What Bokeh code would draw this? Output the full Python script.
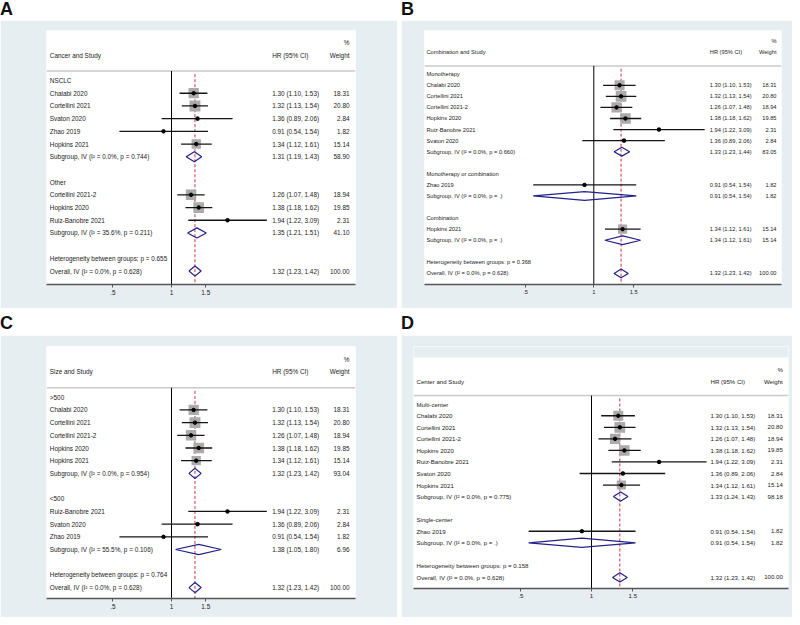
import math
from bokeh.plotting import figure
from bokeh.models import Range1d, FixedTicker, Div
from bokeh.layouts import row, column
from bokeh.core.properties import value
from bokeh.embed import file_html
from bokeh.resources import INLINE

# ---------------- data ----------------
studies = ["Chalabi 2020", "Cortellini 2021", "Cortellini 2021-2", "Hopkins 2020",
           "Hopkins 2021", "Ruiz-Banobre 2021", "Svaton 2020", "Zhao 2019"]
hr = [1.30, 1.32, 1.26, 1.38, 1.34, 1.94, 1.36, 0.91]
hr_lo = [1.10, 1.13, 1.07, 1.18, 1.12, 1.22, 0.89, 0.54]
hr_hi = [1.53, 1.54, 1.48, 1.62, 1.61, 3.09, 2.06, 1.54]
weight = [18.31, 20.80, 18.94, 19.85, 15.14, 2.31, 2.84, 1.82]

overall_hr, overall_lo, overall_hi, overall_w = 1.32, 1.23, 1.42, 100.00
overall_i2, overall_p = "0.0%", "0.628"

# Panel A
a_title = "Cancer and Study"
a_groups = ["NSCLC", "Other"]
a_members = [["Chalabi 2020", "Cortellini 2021", "Svaton 2020", "Zhao 2019", "Hopkins 2021"],
             ["Cortellini 2021-2", "Hopkins 2020", "Ruiz-Banobre 2021"]]
a_sub_hr = [1.31, 1.35]
a_sub_lo = [1.19, 1.21]
a_sub_hi = [1.43, 1.51]
a_sub_w = [58.90, 41.10]
a_sub_i2 = ["0.0%", "35.6%"]
a_sub_p = ["0.744", "0.211"]
a_het_p = "0.655"

# Panel B
b_title = "Combination and Study"
b_groups = ["Monotherapy", "Monotherapy or combination", "Combination"]
b_members = [["Chalabi 2020", "Cortellini 2021", "Cortellini 2021-2", "Hopkins 2020",
              "Ruiz-Banobre 2021", "Svaton 2020"],
             ["Zhao 2019"],
             ["Hopkins 2021"]]
b_sub_hr = [1.33, 0.91, 1.34]
b_sub_lo = [1.23, 0.54, 1.12]
b_sub_hi = [1.44, 1.54, 1.61]
b_sub_w = [83.05, 1.82, 15.14]
b_sub_i2 = ["0.0%", "0.0%", "0.0%"]
b_sub_p = ["0.660", ".", "."]
b_het_p = "0.368"

# Panel C
c_title = "Size and Study"
c_groups = [">500", "<500"]
c_members = [["Chalabi 2020", "Cortellini 2021", "Cortellini 2021-2", "Hopkins 2020", "Hopkins 2021"],
             ["Ruiz-Banobre 2021", "Svaton 2020", "Zhao 2019"]]
c_sub_hr = [1.32, 1.38]
c_sub_lo = [1.23, 1.05]
c_sub_hi = [1.42, 1.80]
c_sub_w = [93.04, 6.96]
c_sub_i2 = ["0.0%", "55.5%"]
c_sub_p = ["0.954", "0.106"]
c_het_p = "0.764"

# Panel D
d_title = "Center and Study"
d_groups = ["Multi-center", "Single-center"]
d_members = [["Chalabi 2020", "Cortellini 2021", "Cortellini 2021-2", "Hopkins 2020",
              "Ruiz-Banobre 2021", "Svaton 2020", "Hopkins 2021"],
             ["Zhao 2019"]]
d_sub_hr = [1.33, 0.91]
d_sub_lo = [1.24, 0.54]
d_sub_hi = [1.43, 1.54]
d_sub_w = [98.18, 1.82]
d_sub_i2 = ["0.0%", "0.0%"]
d_sub_p = ["0.775", "."]
d_het_p = "0.158"

ticks = [0.5, 1, 1.5]
tick_labels = [".5", "1", "1.5"]

# ---------------- style / layout ----------------
BLUE = "#e7eef1"
GRAY = "#ababab"
NAVY = "#22228a"
RED = "#cc3344"
TXT = "#222222"
FONT = "Liberation Sans"

LAY = {
    "A": dict(fig_left=0, fig_right=397, fig_top=20, fig_bottom=308,
              fl=46, fr=355, ft=30, fb=284, one=171.0, k=84.5,
              rtop=-2.94, rbot=17.06, band=None, tx_s=49.3, tx_hr=271.7, tx_w=349.0,
              fs="6.4px", sq=2.4),
    "B": dict(fig_left=401, fig_right=792, fig_top=20, fig_bottom=308,
              fl=424, fr=781, ft=30, fb=284, one=593.3, k=98.3,
              rtop=-2.95, rbot=20.0, band=None, tx_s=426.0, tx_hr=709.3, tx_w=776.0,
              fs="5.7px", sq=2.35),
    "C": dict(fig_left=0, fig_right=397, fig_top=335, fig_bottom=617,
              fl=46, fr=355, ft=346, fb=598, one=171.0, k=84.5,
              rtop=-3.0, rbot=16.86, band=None, tx_s=49.3, tx_hr=271.7, tx_w=349.0,
              fs="6.4px", sq=2.4),
    "D": dict(fig_left=401, fig_right=792, fig_top=335, fig_bottom=617,
              fl=413, fr=788, ft=346, fb=588, one=591.0, k=102.0,
              rtop=-4.0, rbot=16.96, band=-3.04, tx_s=416.0, tx_hr=710.0, tx_w=782.3,
              fs="6.1px", sq=2.35),
}


def fmt_ci(e, l, h):
    return f"{e:.2f} ({l:.2f}, {h:.2f})"


def build_panel(title, groups, members, s_hr, s_lo, s_hi, s_w, s_i2, s_p, het_p, L):
    px2x = lambda px: math.exp((px - L["one"]) / L["k"])

    sq_y, sq_hr, sq_lo, sq_hi, sq_size = [], [], [], [], []
    left_t, left_y = [], []
    mid_t, mid_y = [], []
    w_t, w_y = [], []
    dxs, dys = [], []
    dh = 0.4

    r = 1
    for gi, g in enumerate(groups):
        left_t.append(g); left_y.append(r); r += 1
        for s in members[gi]:
            i = studies.index(s)
            sq_y.append(r); sq_hr.append(hr[i]); sq_lo.append(hr_lo[i]); sq_hi.append(hr_hi[i])
            sq_size.append(L["sq"] * math.sqrt(weight[i]))
            left_t.append(s); left_y.append(r)
            mid_t.append(fmt_ci(hr[i], hr_lo[i], hr_hi[i])); mid_y.append(r)
            w_t.append(f"{weight[i]:.2f}"); w_y.append(r)
            r += 1
        left_t.append(f"Subgroup, IV (I\u00b2 = {s_i2[gi]}, p = {s_p[gi]})"); left_y.append(r)
        mid_t.append(fmt_ci(s_hr[gi], s_lo[gi], s_hi[gi])); mid_y.append(r)
        w_t.append(f"{s_w[gi]:.2f}"); w_y.append(r)
        dxs.append([s_lo[gi], s_hr[gi], s_hi[gi], s_hr[gi]])
        dys.append([r, r - dh, r, r + dh])
        r += 2
    left_t.append(f"Heterogeneity between groups: p = {het_p}"); left_y.append(r); r += 1
    left_t.append(f"Overall, IV (I\u00b2 = {overall_i2}, p = {overall_p})"); left_y.append(r)
    mid_t.append(fmt_ci(overall_hr, overall_lo, overall_hi)); mid_y.append(r)
    w_t.append(f"{overall_w:.2f}"); w_y.append(r)
    dxs.append([overall_lo, overall_hr, overall_hi, overall_hr])
    dys.append([r, r - dh, r, r + dh])

    p = figure(frame_width=L["fr"] - L["fl"], frame_height=L["fb"] - L["ft"],
               min_border_left=L["fl"] - L["fig_left"], min_border_right=L["fig_right"] - L["fr"],
               min_border_top=L["ft"] - L["fig_top"], min_border_bottom=L["fig_bottom"] - L["fb"],
               x_axis_type="log", x_range=Range1d(px2x(L["fl"]), px2x(L["fr"])),
               y_range=Range1d(L["rbot"], L["rtop"]), y_axis_location=None,
               toolbar_location=None, tools="", output_backend="svg")
    p.background_fill_color = "white"
    p.border_fill_color = BLUE
    p.outline_line_color = None
    p.xgrid.visible = False
    p.ygrid.visible = False

    ax = p.xaxis[0]
    ax.ticker = FixedTicker(ticks=ticks)
    ax.major_label_overrides = {t: lab for t, lab in zip(ticks, tick_labels)}
    ax.axis_line_color = "#555555"
    ax.axis_line_width = 1.5
    ax.major_tick_line_color = "#555555"
    ax.major_tick_out = 3
    ax.major_tick_in = 0
    ax.minor_tick_line_color = None
    ax.major_label_standoff = 2
    ax.major_label_text_font = FONT
    ax.major_label_text_font_size = L["fs"]
    ax.major_label_text_color = TXT

    xl, xr = px2x(L["fl"]), px2x(L["fr"])
    if L["band"] is not None:
        # panel background strip above the white plotting box
        p.quad(left=[xl], right=[xr], top=[L["rtop"]], bottom=[L["band"]],
               fill_color=BLUE, line_color=None)

    sep = 0.25
    p.segment(x0=[xl], y0=[sep], x1=[xr], y1=[sep], line_color="#c9c9c9", line_width=1.5)
    p.segment(x0=[overall_hr], y0=[0.5], x1=[overall_hr], y1=[L["rbot"]],
              line_color=RED, line_width=1, line_dash="3 2")
    p.segment(x0=[1], y0=[sep], x1=[1], y1=[L["rbot"]], line_color="black", line_width=1)
    p.scatter(x=sq_hr, y=sq_y, size=sq_size, marker="square", fill_color=GRAY, line_color=None)
    p.segment(x0=sq_lo, y0=sq_y, x1=sq_hi, y1=sq_y, line_color="#151515", line_width=1.3)
    p.scatter(x=sq_hr, y=sq_y, size=3.5, marker="circle", fill_color="black", line_color="black")
    p.patches(xs=dxs, ys=dys, fill_color=None, line_color=NAVY, line_width=1.2)

    tf = value(FONT)
    fsz = value(L["fs"])
    p.text(x=[px2x(L["tx_s"])] * len(left_t), y=left_y, text=left_t, text_font=tf,
           text_font_size=fsz, text_color=TXT, text_baseline="middle", text_align="left")
    p.text(x=[px2x(L["tx_hr"])] * len(mid_t), y=mid_y, text=mid_t, text_font=tf,
           text_font_size=fsz, text_color=TXT, text_baseline="middle", text_align="left")
    p.text(x=[px2x(L["tx_w"])] * len(w_t), y=w_y, text=w_t, text_font=tf,
           text_font_size=fsz, text_color=TXT, text_baseline="middle", text_align="right")
    p.text(x=[px2x(L["tx_s"]), px2x(L["tx_hr"])], y=[-1, -1], text=[title, "HR (95% CI)"],
           text_font=tf, text_font_size=fsz, text_color=TXT, text_baseline="middle",
           text_align="left")
    p.text(x=[px2x(L["tx_w"])] * 2, y=[-1, -2], text=["Weight", "%"],
           text_font=tf, text_font_size=fsz, text_color=TXT, text_baseline="middle",
           text_align="right")
    return p


pA = build_panel(a_title, a_groups, a_members, a_sub_hr, a_sub_lo, a_sub_hi, a_sub_w,
                 a_sub_i2, a_sub_p, a_het_p, LAY["A"])
pB = build_panel(b_title, b_groups, b_members, b_sub_hr, b_sub_lo, b_sub_hi, b_sub_w,
                 b_sub_i2, b_sub_p, b_het_p, LAY["B"])
pC = build_panel(c_title, c_groups, c_members, c_sub_hr, c_sub_lo, c_sub_hi, c_sub_w,
                 c_sub_i2, c_sub_p, c_het_p, LAY["C"])
pD = build_panel(d_title, d_groups, d_members, d_sub_hr, d_sub_lo, d_sub_hi, d_sub_w,
                 d_sub_i2, d_sub_p, d_het_p, LAY["D"])


def letter(ch, w, h, pad_top):
    html = (f'<div style="padding-top:{pad_top}px;'
            f'font-family:\'Liberation Sans\',Arial,sans-serif;font-weight:bold;'
            f'font-size:18px;line-height:18px;color:#111111">{ch}</div>')
    return Div(text=html, width=w, height=h, margin=0)


layout = column(
    row(letter("A", 397, 20, 0), letter("B", 391, 20, 0), spacing=4),
    row(pA, pB, spacing=4),
    row(letter("C", 397, 27, 6), letter("D", 391, 27, 6), spacing=4),
    row(pC, pD, spacing=4),
    spacing=0,
)

open("out.html", "w").write(file_html(layout, INLINE))
